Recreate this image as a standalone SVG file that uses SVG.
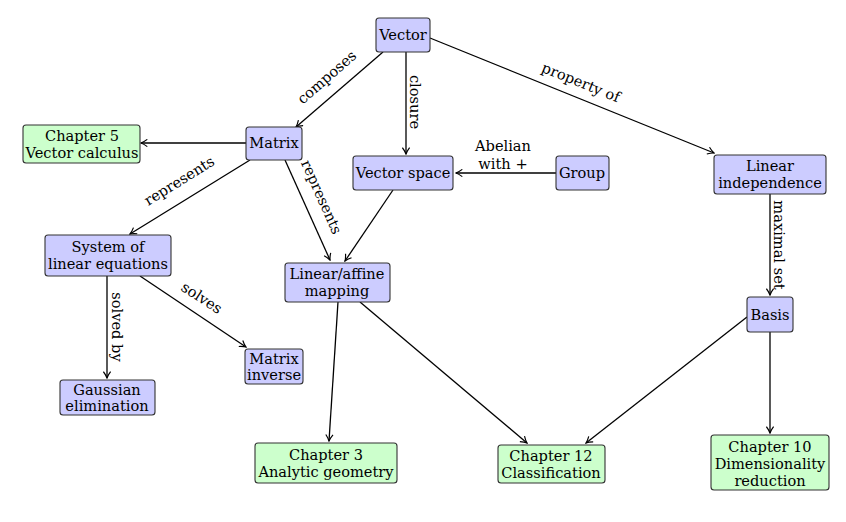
<svg xmlns="http://www.w3.org/2000/svg" width="846" height="522" viewBox="0 0 846 522">
<style>
text{font-family:"DejaVu Serif","Liberation Serif",serif;font-size:14.6px;fill:#000;text-anchor:middle}
.b{fill:#ccccff;stroke:#333;stroke-width:1.1}
.g{fill:#ccffcc;stroke:#333;stroke-width:1.1}
.e{stroke:#000;stroke-width:1.3;fill:none;marker-end:url(#a)}
</style>
<defs><marker id="a" viewBox="0 0 10 10" refX="9" refY="5" markerWidth="9" markerHeight="9" markerUnits="userSpaceOnUse" orient="auto"><path d="M2,1 Q6,4 9,5 Q6,6 2,9" fill="none" stroke="#000" stroke-width="1.3"/></marker></defs>
<rect width="846" height="522" fill="#fff"/>
<g id="edges">
<path class="e" d="M383,52 L296,127"/>
<path class="e" d="M406,52 L406,154"/>
<path class="e" d="M430,38 L714,153"/>
<path class="e" d="M246,143 L141,143"/>
<path class="e" d="M250,160 L130,234"/>
<path class="e" d="M285,160 L330,260"/>
<path class="e" d="M556,173 L456,173"/>
<path class="e" d="M393,190 L345,261"/>
<path class="e" d="M770,194 L770,295"/>
<path class="e" d="M107,276 L107,378"/>
<path class="e" d="M140,276 L246,347"/>
<path class="e" d="M338,302 L329,441"/>
<path class="e" d="M360,302 L527,443"/>
<path class="e" d="M747,317 L586,443"/>
<path class="e" d="M770,332 L770,433"/>
<text transform="translate(330,81) rotate(-41)">composes</text>
<text transform="translate(410,102) rotate(90)">closure</text>
<text transform="translate(579,87) rotate(22)">property of</text>
<text transform="translate(182,185) rotate(-32)">represents</text>
<text transform="translate(317,199) rotate(66)">represents</text>
<text x="503" y="151">Abelian</text>
<text x="503" y="169">with +</text>
<text transform="translate(774,245) rotate(90)">maximal set</text>
<text transform="translate(112,327) rotate(90)">solved by</text>
<text transform="translate(199,302) rotate(33)">solves</text>
</g>
<g id="vector"><rect class="b" x="376" y="18" width="54" height="34" rx="3"/><text x="403" y="40">Vector</text></g>
<g id="matrix"><rect class="b" x="246" y="127" width="56" height="33" rx="3"/><text x="274" y="148">Matrix</text></g>
<g id="ch5"><rect class="g" x="23" y="125" width="117" height="38" rx="3"/><text x="82" y="141">Chapter 5</text><text x="82" y="158">Vector calculus</text></g>
<g id="vspace"><rect class="b" x="353" y="156" width="100" height="34" rx="3"/><text x="403" y="178">Vector space</text></g>
<g id="group"><rect class="b" x="556" y="156" width="53" height="34" rx="3"/><text x="582" y="178">Group</text></g>
<g id="linind"><rect class="b" x="714" y="155" width="112" height="39" rx="3"/><text x="770" y="171">Linear</text><text x="770" y="188">independence</text></g>
<g id="system"><rect class="b" x="45" y="235" width="126" height="41" rx="3"/><text x="108" y="252">System of</text><text x="108" y="269">linear equations</text></g>
<g id="mapping"><rect class="b" x="285" y="263" width="105" height="39" rx="3"/><text x="337" y="279">Linear/affine</text><text x="337" y="296">mapping</text></g>
<g id="basis"><rect class="b" x="747" y="297" width="46" height="35" rx="3"/><text x="770" y="320">Basis</text></g>
<g id="gauss"><rect class="b" x="60" y="380" width="95" height="35" rx="3"/><text x="107" y="395">Gaussian</text><text x="107" y="411">elimination</text></g>
<g id="inverse"><rect class="b" x="245" y="349" width="58" height="35" rx="3"/><text x="274" y="364">Matrix</text><text x="274" y="380">inverse</text></g>
<g id="ch3"><rect class="g" x="255" y="443" width="142" height="40" rx="3"/><text x="326" y="460">Chapter 3</text><text x="326" y="477">Analytic geometry</text></g>
<g id="ch12"><rect class="g" x="498" y="445" width="107" height="38" rx="3"/><text x="551" y="461">Chapter 12</text><text x="551" y="478">Classification</text></g>
<g id="ch10"><rect class="g" x="711" y="435" width="118" height="55" rx="3"/><text x="770" y="452">Chapter 10</text><text x="770" y="469">Dimensionality</text><text x="770" y="486">reduction</text></g>
</svg>
